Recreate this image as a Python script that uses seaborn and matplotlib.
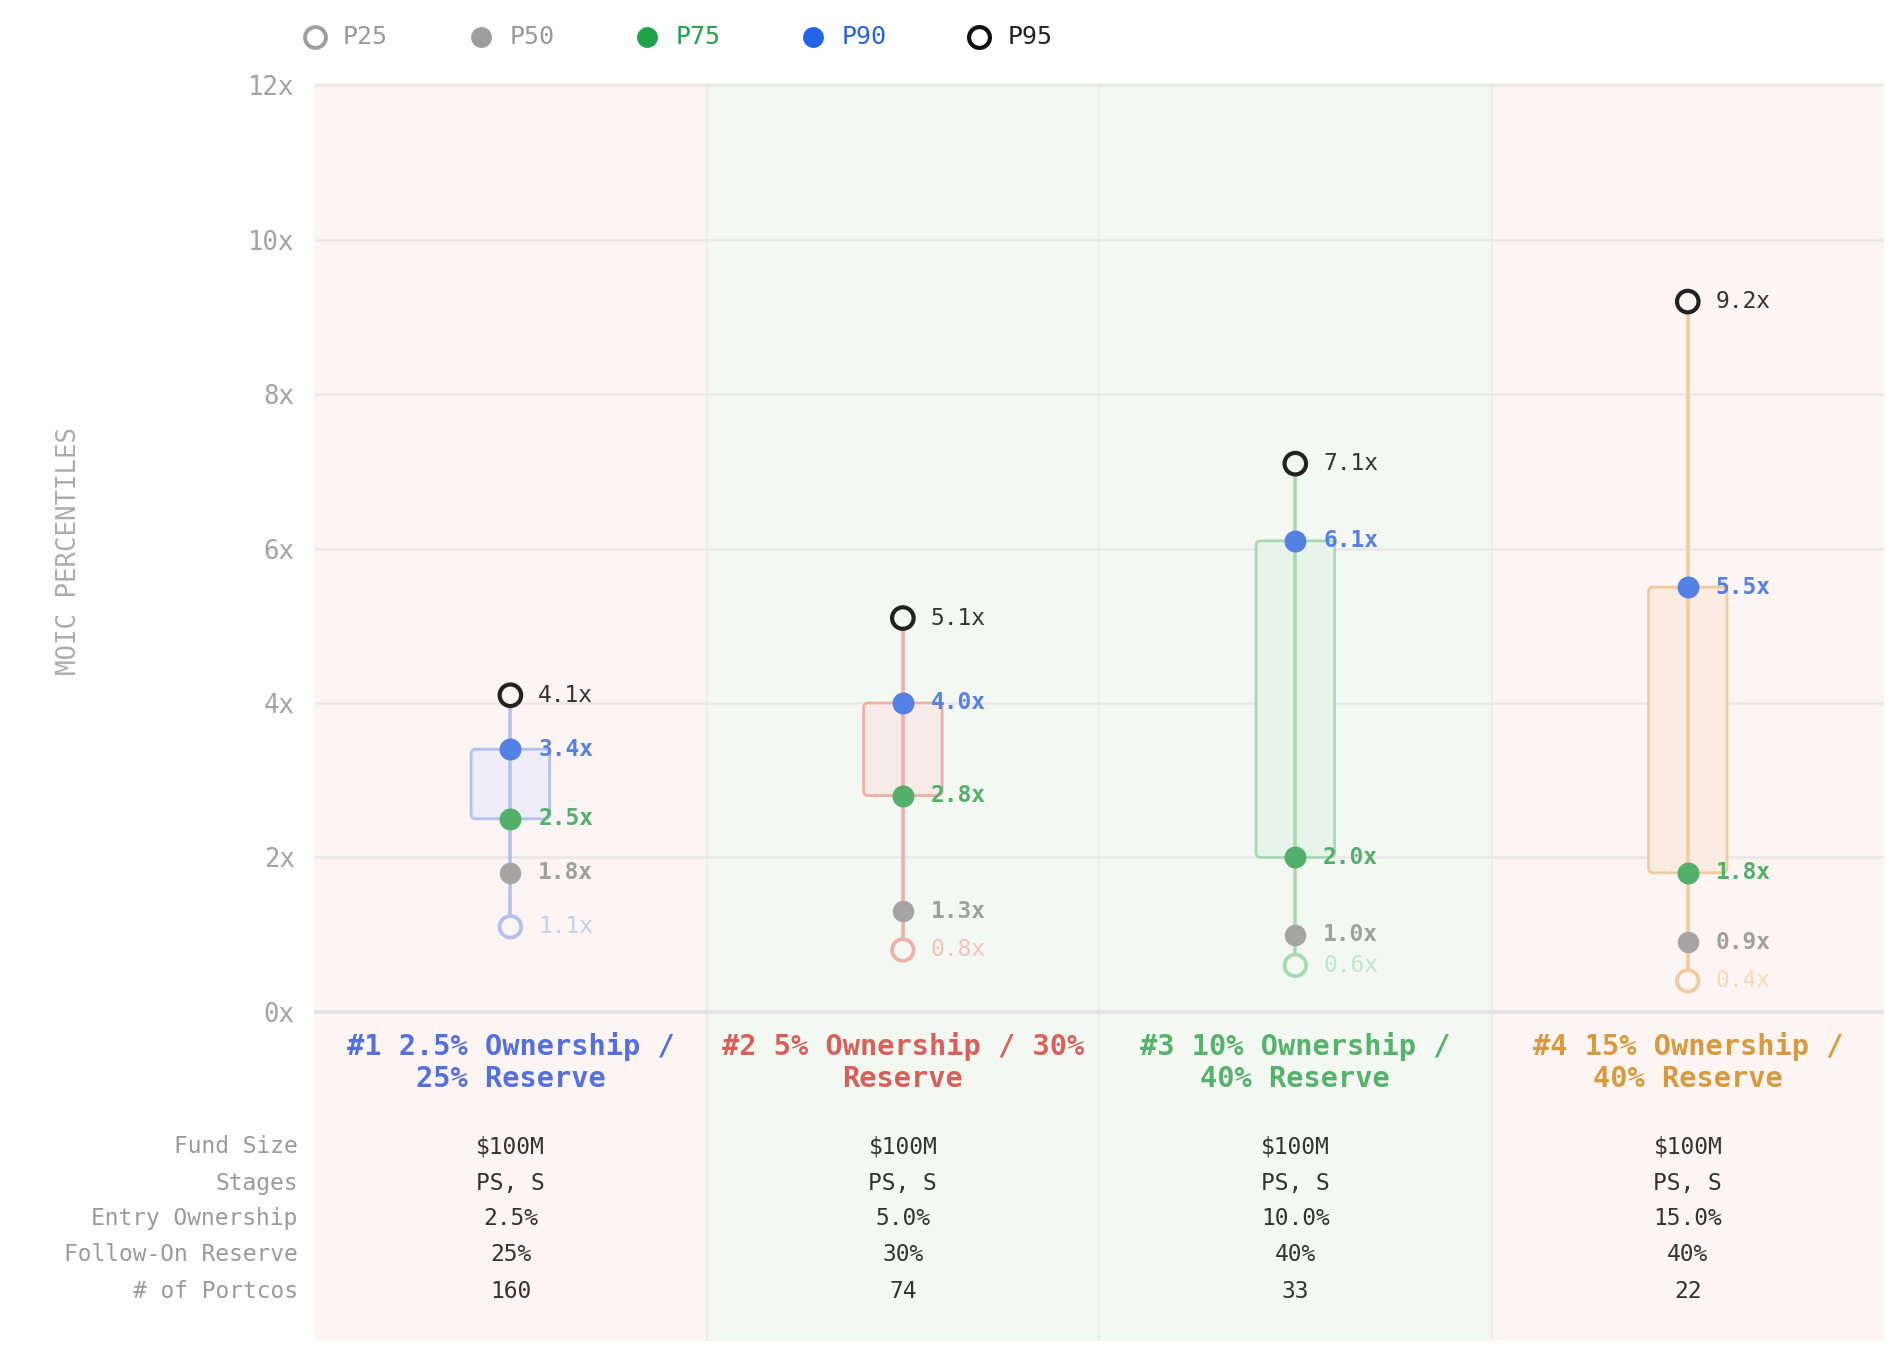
import numpy as np
import pandas as pd
import matplotlib
matplotlib.use("Agg")
import matplotlib.pyplot as plt
from matplotlib.patches import FancyBboxPatch
from matplotlib.lines import Line2D
import matplotlib.transforms as mtransforms
import seaborn as sns

# ---------------- data ----------------
categories = ["#1 2.5% Ownership /\n25% Reserve",
              "#2 5% Ownership / 30%\nReserve",
              "#3 10% Ownership /\n40% Reserve",
              "#4 15% Ownership /\n40% Reserve"]
p25 = [1.1, 0.8, 0.6, 0.4]
p50 = [1.8, 1.3, 1.0, 0.9]
p75 = [2.5, 2.8, 2.0, 1.8]
p90 = [3.4, 4.0, 6.1, 5.5]
p95 = [4.1, 5.1, 7.1, 9.2]

row_labels = ["Fund Size", "Stages", "Entry Ownership", "Follow-On Reserve", "# of Portcos"]
fund_size = ["$100M", "$100M", "$100M", "$100M"]
stages = ["PS, S", "PS, S", "PS, S", "PS, S"]
entry_own = ["2.5%", "5.0%", "10.0%", "15.0%"]
follow_on = ["25%", "30%", "40%", "40%"]
portcos = ["160", "74", "33", "22"]
table_rows = [fund_size, stages, entry_own, follow_on, portcos]

yticks = [0, 2, 4, 6, 8, 10, 12]
ytick_labels = ["0x", "2x", "4x", "6x", "8x", "10x", "12x"]
legend_labels = ["P25", "P50", "P75", "P90", "P95"]

# ---------------- styles ----------------
title_colors = ["#5470e0", "#d9605a", "#55b26a", "#d99a3e"]
light_colors = ["#b3c0f0", "#eeb0a8", "#a9d9b2", "#f0cc9e"]
box_fills = ["#eeedf8", "#f6ebe6", "#e8f3e9", "#faece3"]
p25_text = ["#c4cef5", "#f2c2ba", "#c2e5c9", "#f5dab6"]
band_colors = ["#fdf4f4", "#f4f8f2", "#f4f8f2", "#fdf4f4"]
C_P50 = "#a6a4a4"
C_P75 = "#52b06a"
C_P90 = "#5580e6"
C_P95 = "#222222"

FONT = "DejaVu Sans Mono"
sns.set_theme(style="white")
plt.rcParams["font.family"] = [FONT, "DejaVu Sans"]

df = pd.DataFrame({"cat": categories, "xi": np.arange(len(categories)),
                   "P25": p25, "P50": p50, "P75": p75, "P90": p90, "P95": p95})
long = df.melt(id_vars=["cat", "xi"], value_vars=["P25", "P50", "P75", "P90", "P95"],
               var_name="pct", value_name="value")

fig = plt.figure(figsize=(19.04, 13.56), dpi=100)
fig.patch.set_facecolor("white")
AX_L, AX_W = 0.1650, 0.8245
AX_TOP, AX_H = 0.9387, 0.9276
ax = fig.add_axes([AX_L, AX_TOP - AX_H, AX_W, AX_H])
ax.set_facecolor("white")
YMIN, YMAX = -4.265, 12.03
ax.set_xlim(-0.5, 3.5)
ax.set_ylim(YMIN, YMAX)
for s in ax.spines.values():
    s.set_visible(False)

# bands
for i, bc in enumerate(band_colors):
    ax.axvspan(i - 0.5, i + 0.5, color=bc, zorder=0, lw=0)
for b in [0.5, 1.5, 2.5]:
    ax.axvline(b, color="#e9ece8", lw=1.2, zorder=0.5)

# grid
for t in yticks:
    ax.hlines(t, -0.5, 3.5, color="#e2e2e2" if t == 0 else "#e9e7e7",
              lw=2.6 if t == 0 else 1.8, zorder=1)

ax.set_yticks(yticks)
ax.set_yticklabels(ytick_labels)
ax.tick_params(axis="y", length=0, pad=14, labelsize=18.5, labelcolor="#a3a3a3")
ax.set_xticks([])

# boxes and whiskers
px_x = AX_W * 1904 / 4.0
px_y = AX_H * 1356 / (YMAX - YMIN)
r = 4.5 / px_x
for i in range(len(categories)):
    box = FancyBboxPatch((i - 0.1, p75[i]), 0.2, p90[i] - p75[i],
                         boxstyle=f"round,pad=0,rounding_size={r}",
                         mutation_aspect=(4.5 / px_y) / r,
                         facecolor=box_fills[i], edgecolor=light_colors[i],
                         lw=2.0, zorder=2)
    ax.add_patch(box)
    ax.plot([i, i], [p25[i], p95[i]], color=light_colors[i], lw=2.6,
            zorder=3, solid_capstyle="butt")

# markers
d = long[long.pct == "P50"]
sns.scatterplot(data=d, x="xi", y="value", color=C_P50, s=240, linewidth=0,
                ax=ax, zorder=4, legend=False)
d = long[long.pct == "P75"]
sns.scatterplot(data=d, x="xi", y="value", color=C_P75, s=250, linewidth=0,
                ax=ax, zorder=4, legend=False)
d = long[long.pct == "P90"]
sns.scatterplot(data=d, x="xi", y="value", color=C_P90, s=250, linewidth=0,
                ax=ax, zorder=4, legend=False)

d = long[long.pct == "P25"]
sns.scatterplot(data=d, x="xi", y="value", hue="cat", palette=light_colors,
                s=240, linewidth=2.7, ax=ax, zorder=4, legend=False)
coll = ax.collections[-1]
coll.set_edgecolors(coll.get_facecolors())
coll.set_facecolors(band_colors)

d = long[long.pct == "P95"]
sns.scatterplot(data=d, x="xi", y="value", color=C_P95, s=240, linewidth=3.0,
                ax=ax, zorder=4, legend=False)
coll = ax.collections[-1]
coll.set_edgecolors(C_P95)
coll.set_facecolors(band_colors)
ax.set_xlabel("")
ax.set_ylabel("")

# value labels
dx = 0.071
FS_V = 16.5
for i in range(len(categories)):
    ax.text(i + dx, p95[i], f"{p95[i]:.1f}x", color="#333333", fontsize=FS_V,
            va="center", ha="left", zorder=5)
    ax.text(i + dx, p90[i], f"{p90[i]:.1f}x", color=C_P90, fontsize=FS_V,
            fontweight="bold", va="center", ha="left", zorder=5)
    ax.text(i + dx, p75[i], f"{p75[i]:.1f}x", color=C_P75, fontsize=FS_V,
            fontweight="bold", va="center", ha="left", zorder=5)
    ax.text(i + dx, p50[i], f"{p50[i]:.1f}x", color="#a0a0a0", fontsize=FS_V,
            fontweight="bold", va="center", ha="left", zorder=5)
    ax.text(i + dx, p25[i], f"{p25[i]:.1f}x", color=p25_text[i], fontsize=FS_V,
            va="center", ha="left", zorder=5)

# category titles
for i, c in enumerate(categories):
    ax.text(i, -0.66, c, color=title_colors[i], fontsize=20.6, fontweight="bold",
            ha="center", va="center", linespacing=1.2, zorder=5)

# table
row_y = [-1.748, -2.22, -2.68, -3.15, -3.62]
trans = mtransforms.blended_transform_factory(ax.transAxes, ax.transData)
for lab, yy, vals in zip(row_labels, row_y, table_rows):
    ax.text(-0.0105, yy, lab, transform=trans, ha="right", va="center",
            fontsize=16.5, color="#9a9a9a", clip_on=False)
    for i, v in enumerate(vals):
        ax.text(i, yy, v, ha="center", va="center", fontsize=16.5, color="#333333")

# y label
fig.text(0.0365, 0.594, "MOIC PERCENTILES", rotation=90, ha="center", va="center",
         fontsize=18.5, color="#acacac")

# legend
leg_marker = [dict(mfc="white", mec="#9e9e9e", mew=2.8),
              dict(mfc="#9e9e9e", mec="#9e9e9e", mew=0),
              dict(mfc="#1fa34a", mec="#1fa34a", mew=0),
              dict(mfc="#2563eb", mec="#2563eb", mew=0),
              dict(mfc="white", mec="#111111", mew=3.0)]
leg_text = ["#9a9a9a", "#9a9a9a", "#1fa34a", "#2563eb", "#222222"]
x0, step, ly = 0.1654, 0.0872, 0.973
for k, lab in enumerate(legend_labels):
    xm = x0 + k * step
    fig.add_artist(Line2D([xm], [ly], marker="o", ms=15, ls="none",
                          transform=fig.transFigure, **leg_marker[k]))
    fig.text(xm + 0.0148, ly, lab, ha="left", va="center", fontsize=18,
             color=leg_text[k])

fig.savefig("out.png", dpi=100, facecolor="white")
